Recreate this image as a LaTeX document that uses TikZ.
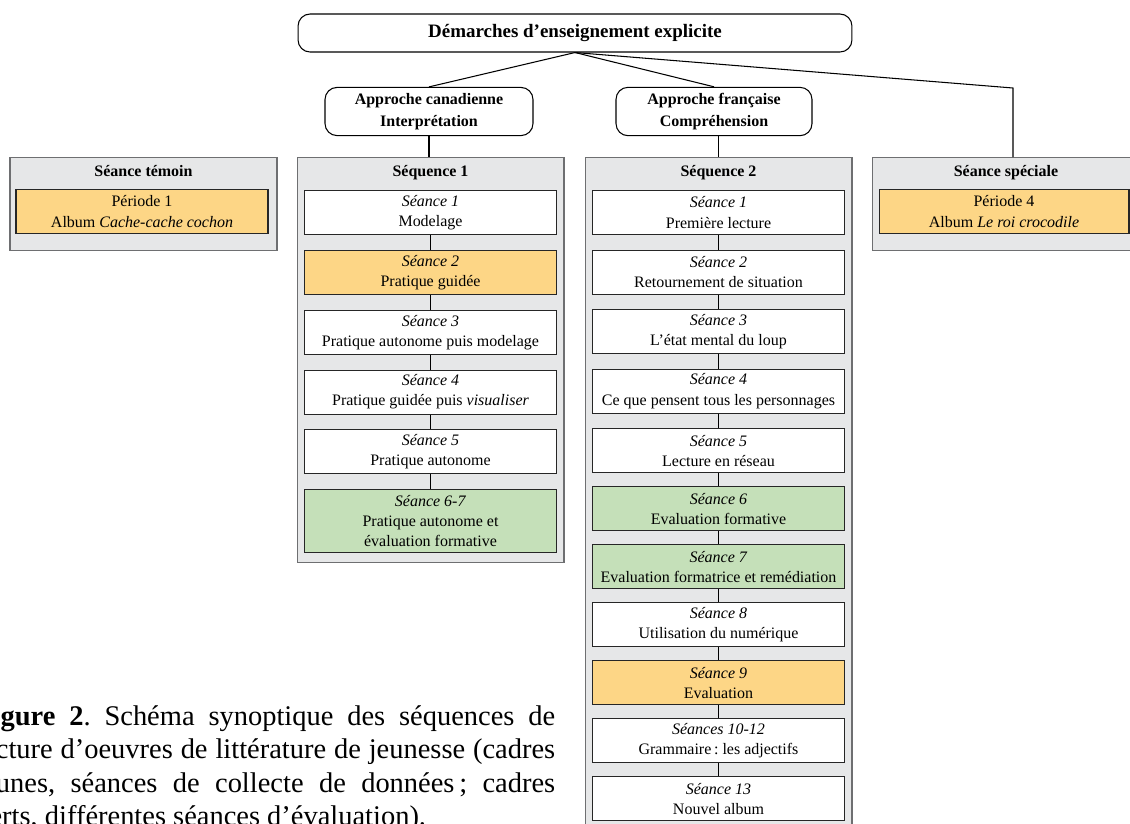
\documentclass[tikz,border=0pt]{standalone}
\usepackage{fontspec}
\setmainfont{Liberation Serif}
\usepackage{tikz}
\usetikzlibrary{positioning}
\usetikzlibrary{calc}

\definecolor{framefill}{RGB}{230,231,232}
\definecolor{framedraw}{RGB}{110,111,113}
\definecolor{collecte}{RGB}{253,214,134}
\definecolor{evaluation}{RGB}{197,224,185}

\newcommand{\boxfont}{\fontsize{9.1}{11.4}\selectfont}
\newcommand{\legfont}{\fontsize{16.2}{19.05}\selectfont}
\frenchspacing

\begin{document}
\begin{tikzpicture}[x=0.02cm, y=-0.02cm,
  topbox/.style={draw, rounded corners=0.24cm, align=center, font=\fontsize{9.1}{12.5}\selectfont\bfseries, line width=0.6pt},
  frame/.style={draw=framedraw, fill=framefill, minimum width=5.34cm, line width=0.6pt, anchor=north},
  head/.style={font=\boxfont\bfseries, anchor=north, inner sep=0pt},
  seance/.style={draw=black!85, fill=white, align=center, font=\boxfont, minimum width=5.04cm, minimum height=0.88cm, inner sep=1pt, line width=0.6pt},
  link/.style={line width=0.6pt}
]
\useasboundingbox (0,0) rectangle (1130,823);
\clip (0,0) rectangle (1130,823);

% Top level
\node[topbox, font=\fontsize{10.8}{13}\selectfont\bfseries, minimum width=11.08cm, minimum height=0.76cm] (demarches) at (575,33) {D\'emarches d'enseignement explicite};
\node[topbox, minimum width=4.16cm, minimum height=0.94cm] (canadienne) at (429,111.5) {Approche canadienne\\Interpr\'etation};
\node[topbox, minimum width=3.92cm, minimum height=0.94cm] (francaise) at (714,111.5) {Approche fran\c{c}aise\\Compr\'ehension};
\coordinate (coude) at (1013,88);

% Frames
\node[frame, minimum height=1.86cm] (temoin) at (143.5,157) {};
\node[frame, minimum height=8.10cm] (seqA) at (430.5,157) {};
\node[frame, minimum height=13.66cm] (seqB) at (718.5,157) {};
\node[frame, minimum height=1.86cm] (speciale) at (1006,157) {};

\node[head] at ([yshift=-0.16cm]temoin.north) {S\'eance t\'emoin};
\node[head] at ([yshift=-0.16cm]seqA.north) {S\'equence 1};
\node[head] at ([yshift=-0.16cm]seqB.north) {S\'equence 2};
\node[head] at ([yshift=-0.16cm]speciale.north) {S\'eance sp\'eciale};

% Seance temoin / speciale
\node[seance, fill=collecte, anchor=north] (p1) at (142,189) {P\'eriode 1\\Album \textit{Cache-cache cochon}};
\node[seance, fill=collecte, anchor=north, minimum width=5.0cm] (p4) at (1004,189) {P\'eriode 4\\Album \textit{Le roi crocodile}};

% Sequence 1
\node[seance, anchor=north] (a1) at ([yshift=-0.66cm]seqA.north) {\textit{S\'eance 1}\\Modelage};
\node[seance, fill=collecte, below=0.296cm of a1] (a2) {\textit{S\'eance 2}\\Pratique guid\'ee};
\node[seance, below=0.296cm of a2] (a3) {\textit{S\'eance 3}\\Pratique autonome puis modelage};
\node[seance, below=0.296cm of a3] (a4) {\textit{S\'eance 4}\\Pratique guid\'ee puis \textit{visualiser}};
\node[seance, below=0.296cm of a4] (a5) {\textit{S\'eance 5}\\Pratique autonome};
\node[seance, fill=evaluation, minimum height=1.26cm, below=0.296cm of a5] (a67) {\textit{S\'eance 6-7}\\Pratique autonome et\\\'evaluation formative};

% Sequence 2
\node[seance, anchor=north] (b1) at ([yshift=-0.66cm]seqB.north) {\textit{S\'eance 1}\\Premi\`ere lecture};
\node[seance, below=0.29cm of b1] (b2) {\textit{S\'eance 2}\\Retournement de situation};
\node[seance, below=0.29cm of b2] (b3) {\textit{S\'eance 3}\\L'\'etat mental du loup};
\node[seance, below=0.29cm of b3] (b4) {\textit{S\'eance 4}\\Ce que pensent tous les personnages};
\node[seance, below=0.29cm of b4] (b5) {\textit{S\'eance 5}\\Lecture en r\'eseau};
\node[seance, fill=evaluation, below=0.26cm of b5] (b6) {\textit{S\'eance 6}\\Evaluation formative};
\node[seance, fill=evaluation, below=0.26cm of b6] (b7) {\textit{S\'eance 7}\\Evaluation formatrice et rem\'ediation};
\node[seance, below=0.26cm of b7] (b8) {\textit{S\'eance 8}\\Utilisation du num\'erique};
\node[seance, fill=collecte, below=0.26cm of b8] (b9) {\textit{S\'eance 9}\\Evaluation};
\node[seance, below=0.26cm of b9] (b10) {\textit{S\'eances 10-12}\\Grammaire\,: les adjectifs};
\node[seance, below=0.26cm of b10] (b13) {\textit{S\'eance 13}\\Nouvel album};

% Legend
\node[anchor=north west, inner sep=0pt, align=left, font=\legfont] (legende) at (-25,705) {%
\makebox[11.6cm][s]{\textbf{Figure 2}. Sch\'ema synoptique des s\'equences de}\\
\makebox[11.6cm][s]{lecture d'oeuvres de litt\'erature de jeunesse (cadres}\\
\makebox[11.6cm][s]{jaunes, s\'eances de collecte de donn\'ees\,; cadres}\\
verts, diff\'erentes s\'eances d'\'evaluation).};

% Edges
\draw[link] (demarches.south) -- (canadienne.north);
\draw[link] (demarches.south) -- (francaise.north);
\draw[link] (demarches.south) -- (coude) -- (coude |- speciale.north);
\draw[link] (canadienne.south) -- (canadienne.south |- seqA.north);
\draw[link] (seqB.north |- francaise.south) -- (seqB.north);

\draw[link] (a1) -- (a2) (a2) -- (a3) (a3) -- (a4) (a4) -- (a5) (a5) -- (a67);
\draw[link] (b1) -- (b2) (b2) -- (b3) (b3) -- (b4) (b4) -- (b5) (b5) -- (b6)
  (b6) -- (b7) (b7) -- (b8) (b8) -- (b9) (b9) -- (b10) (b10) -- (b13);

\end{tikzpicture}
\end{document}
